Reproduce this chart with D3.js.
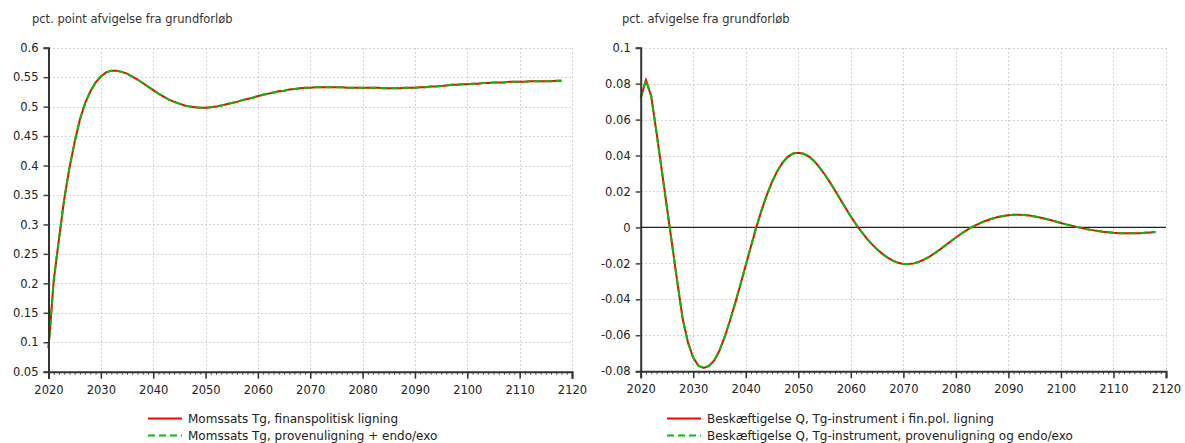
<!DOCTYPE html>
<html>
<head>
<meta charset="utf-8">
<script src="https://cdn.jsdelivr.net/npm/d3@7"></script>
<style>
  html, body { margin: 0; padding: 0; background: #fff; }
  svg { display: block; font-family: "DejaVu Sans", Verdana, sans-serif; }
</style>
</head>
<body>
<svg id="chart" width="1185" height="443"></svg>
<script>
// Years 2020..2118
const years = d3.range(2020, 2119);

// Left panel: VAT rate Tg (pct. point deviation from baseline)
const momsFinpol = [
  0.090, 0.205, 0.275, 0.343, 0.396, 0.440, 0.478, 0.506, 0.526, 0.541,
  0.551, 0.558, 0.561, 0.561, 0.559, 0.556, 0.551, 0.546, 0.540, 0.534,
  0.528, 0.522, 0.517, 0.512, 0.508, 0.505, 0.502, 0.500, 0.499, 0.498,
  0.498, 0.499, 0.500, 0.502, 0.504, 0.506, 0.508, 0.511, 0.513, 0.515,
  0.518, 0.520, 0.522, 0.524, 0.526, 0.527, 0.529, 0.530, 0.531, 0.532,
  0.532, 0.533, 0.533, 0.533, 0.533, 0.533, 0.533, 0.532, 0.532, 0.532,
  0.532, 0.532, 0.532, 0.532, 0.531, 0.531, 0.531, 0.531, 0.532, 0.532,
  0.532, 0.533, 0.533, 0.534, 0.534, 0.535, 0.536, 0.537, 0.537, 0.538,
  0.538, 0.539, 0.539, 0.540, 0.540, 0.541, 0.541, 0.541, 0.542, 0.542,
  0.542, 0.542, 0.543, 0.543, 0.543, 0.543, 0.543, 0.544, 0.544
];
const momsProvenu = momsFinpol.slice();

// Right panel: employment Q (pct. deviation from baseline)
const beskFinpol = [
  0.072, 0.082, 0.073, 0.053, 0.032, 0.011, -0.010, -0.031, -0.051, -0.064,
  -0.0725, -0.0770, -0.0782, -0.0770, -0.0740, -0.0685, -0.0608, -0.0518, -0.0420, -0.0316,
  -0.0210, -0.0104, 0.0000, 0.0095, 0.0180, 0.0253, 0.0313, 0.0360, 0.0393, 0.0411,
  0.0416, 0.0410, 0.0395, 0.0370, 0.0336, 0.0296, 0.0252, 0.0205, 0.0156, 0.0108,
  0.0061, 0.0017, -0.0023, -0.0060, -0.0093, -0.0122, -0.0147, -0.0168, -0.0185, -0.0197,
  -0.0203, -0.0204, -0.0200, -0.0191, -0.0178, -0.0162, -0.0143, -0.0122, -0.0100, -0.0078,
  -0.0056, -0.0035, -0.0016, 0.0001, 0.0016, 0.0029, 0.0040, 0.0050, 0.0058, 0.0064,
  0.0068, 0.0070, 0.0070, 0.0069, 0.0066, 0.0061, 0.0055, 0.0048, 0.0041, 0.0033,
  0.0025, 0.0017, 0.0010, 0.0003, -0.0004, -0.0010, -0.0015, -0.0020, -0.0024, -0.0027,
  -0.0030, -0.0032, -0.0033, -0.0033, -0.0033, -0.0032, -0.0030, -0.0028, -0.0026
];
const beskProvenu = beskFinpol.slice();

// Axis ticks
const xTicks = d3.range(2020, 2121, 10);
const leftYTicks = [0.05, 0.1, 0.15, 0.2, 0.25, 0.3, 0.35, 0.4, 0.45, 0.5, 0.55, 0.6];
const rightYTicks = [-0.08, -0.06, -0.04, -0.02, 0, 0.02, 0.04, 0.06, 0.08, 0.1];

// Titles and legend texts
const leftTitle = "pct. point afvigelse fra grundforløb";
const rightTitle = "pct. afvigelse fra grundforløb";
const leftLegend = ["Momssats Tg, finanspolitisk ligning", "Momssats Tg, provenuligning + endo/exo"];
const rightLegend = ["Beskæftigelse Q, Tg-instrument i fin.pol. ligning", "Beskæftigelse Q, Tg-instrument, provenuligning og endo/exo"];

const svg = d3.select("#chart");
const FONT = 11.5;
const LEGEND_FONT = 12;

function fmt(v) {
  return String(+v.toFixed(4));
}

function panel(opts) {
  const g = svg.append("g");
  const x = d3.scaleLinear().domain([2020, 2120]).range([opts.x0, opts.x1]);
  const y = d3.scaleLinear().domain(opts.yDomain).range([opts.y1, opts.y0]);

  // title
  g.append("text")
    .attr("x", opts.titleX).attr("y", 22.5)
    .attr("font-size", FONT).attr("fill", "#333")
    .text(opts.title);

  // dotted grid
  const grid = g.append("g").attr("stroke", "#d4d4d4").attr("stroke-width", 1)
    .attr("stroke-dasharray", "2,2").attr("shape-rendering", "crispEdges");
  grid.selectAll(".hg").data(opts.yTicks).join("line")
    .attr("x1", opts.x0).attr("x2", opts.x1)
    .attr("y1", d => Math.round(y(d)) + 0.5).attr("y2", d => Math.round(y(d)) + 0.5);
  grid.selectAll(".vg").data(xTicks.slice(1)).join("line")
    .attr("y1", opts.y0).attr("y2", opts.y1)
    .attr("x1", d => Math.round(x(d)) + 0.5).attr("x2", d => Math.round(x(d)) + 0.5);

  // zero line
  if (opts.zeroLine) {
    g.append("line")
      .attr("x1", opts.x0).attr("x2", opts.x1)
      .attr("y1", y(0)).attr("y2", y(0))
      .attr("stroke", "#222").attr("stroke-width", 1.2);
  }

  // series
  const line = d3.line().x((d, i) => x(years[i])).y(d => y(d)).curve(d3.curveLinear);
  g.append("path").datum(opts.s1)
    .attr("d", line).attr("fill", "none")
    .attr("stroke", "#ff0000").attr("stroke-width", 2);
  g.append("path").datum(opts.s2)
    .attr("d", line).attr("fill", "none")
    .attr("stroke", "#00c000").attr("stroke-width", 2)
    .attr("stroke-dasharray", "7,4");

  // y axis
  const ya = d3.axisLeft(y).tickValues(opts.yTicks).tickSize(5).tickPadding(5)
    .tickFormat(fmt);
  const yg = g.append("g").attr("transform", `translate(${opts.x0},0)`).call(ya);
  yg.select(".domain").attr("stroke", "#333").attr("stroke-width", 2);
  yg.selectAll(".tick line").attr("stroke", "#444").attr("stroke-width", 1.5);
  yg.selectAll(".tick text").attr("font-size", FONT).attr("fill", "#222")
    .attr("font-family", "DejaVu Sans, Verdana, sans-serif");

  // x axis: minor yearly ticks, then major decade ticks
  const minor = d3.axisBottom(x).tickValues(d3.range(2020, 2121, 1)).tickSize(3)
    .tickFormat("");
  const mg = g.append("g").attr("transform", `translate(0,${opts.y1})`).call(minor);
  mg.select(".domain").remove();
  mg.selectAll(".tick line").attr("stroke", "#444").attr("stroke-width", 1);

  const xa = d3.axisBottom(x).tickValues(xTicks).tickSize(7).tickPadding(7)
    .tickFormat(d3.format("d"));
  const xg = g.append("g").attr("transform", `translate(0,${opts.y1})`).call(xa);
  xg.select(".domain").attr("stroke", "#333").attr("stroke-width", 2);
  xg.selectAll(".tick line").attr("stroke", "#333").attr("stroke-width", 1.5);
  xg.selectAll(".tick text").attr("font-size", FONT).attr("fill", "#222")
    .attr("font-family", "DejaVu Sans, Verdana, sans-serif");

  // legend
  const lg = g.append("g");
  opts.legend.forEach((label, i) => {
    const yy = 418.5 + i * 17;
    lg.append("line")
      .attr("x1", opts.legX).attr("x2", opts.legX + 34)
      .attr("y1", yy).attr("y2", yy)
      .attr("stroke", i === 0 ? "#ff0000" : "#00c000").attr("stroke-width", 2)
      .attr("stroke-dasharray", i === 0 ? null : "7,4");
    lg.append("text")
      .attr("x", opts.legX + 40).attr("y", yy + 4)
      .attr("font-size", LEGEND_FONT).attr("fill", "#222")
      .text(label);
  });
}

panel({
  x0: 48.5, x1: 572, y0: 47.7, y1: 371.7,
  yDomain: [0.05, 0.6], yTicks: leftYTicks,
  s1: momsFinpol, s2: momsProvenu,
  title: leftTitle, titleX: 32,
  legend: leftLegend, legX: 148,
  zeroLine: false
});

panel({
  x0: 640.7, x1: 1166, y0: 47.7, y1: 371.2,
  yDomain: [-0.08, 0.1], yTicks: rightYTicks,
  s1: beskFinpol, s2: beskProvenu,
  title: rightTitle, titleX: 622,
  legend: rightLegend, legX: 667,
  zeroLine: true
});
</script>
</body>
</html>
